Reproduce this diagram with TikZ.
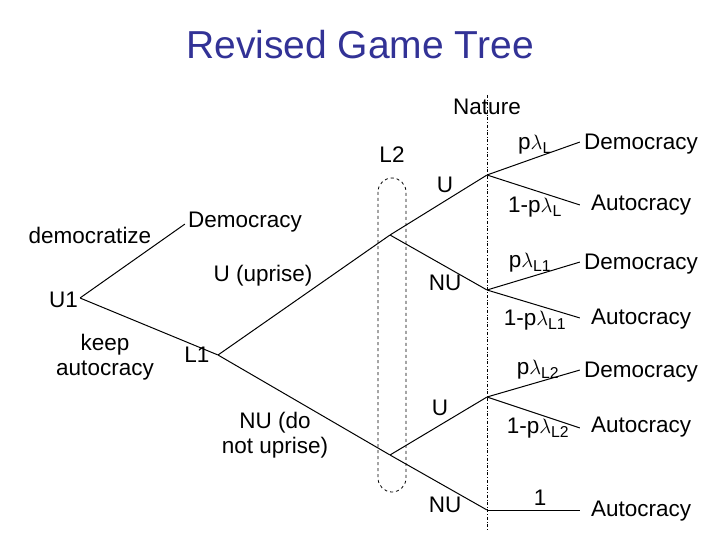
\documentclass[tikz,border=0pt]{standalone}
\usepackage{fontspec}
\setmainfont{Liberation Sans}
\begin{document}
\begin{tikzpicture}[x=1pt,y=-1pt,
  lbl/.style={font=\fontsize{22.5}{25}\selectfont,inner sep=0pt,align=center},
  outc/.style={lbl,anchor=west},
  br/.style={line width=1pt},
  pt/.style={inner sep=0pt,minimum size=0pt}]
\useasboundingbox (0,0) rectangle (720,540);
\node[font=\fontsize{39}{42}\selectfont,text={rgb,255:red,50;green,50;blue,150}] (title) at (360,45) {Revised Game Tree};
% dashed nature line and L2 info set
\draw[dash dot,line width=0.6pt] (487,95) -- (487,530);
\draw[dashed,line width=0.8pt,rounded corners=14pt] (378,178) rectangle (406,492);
\node[lbl] (nat) at (487,107) {Nature};
\node[lbl] (l2lab) at (392,155) {L2};
% nodes
\node[pt] (u1) at (80,298) {};
\node[pt] (d1) at (185,224) {};
\node[pt] (l1) at (218,355) {};
\node[pt] (a) at (390,235) {};
\node[pt] (b) at (390,455) {};
\node[pt] (n1) at (487,175) {};
\node[pt] (n2) at (487,290) {};
\node[pt] (n3) at (487,397) {};
\node[pt] (n4) at (487,510) {};
\node[pt] (e1) at (580,142) {};
\node[pt] (e2) at (580,205) {};
\node[pt] (e3) at (580,262) {};
\node[pt] (e4) at (580,318) {};
\node[pt] (e5) at (580,370) {};
\node[pt] (e6) at (580,428) {};
\node[pt] (e7) at (580,510) {};
\draw[br] (u1) -- (d1);
\draw[br] (u1) -- (l1);
\draw[br] (l1) -- (a);
\draw[br] (l1) -- (b);
\draw[br] (a) -- (n1);
\draw[br] (a) -- (n2);
\draw[br] (b) -- (n3);
\draw[br] (b) -- (n4);
\draw[br] (n1) -- (e1); \draw[br] (n1) -- (e2);
\draw[br] (n2) -- (e3); \draw[br] (n2) -- (e4);
\draw[br] (n3) -- (e5); \draw[br] (n3) -- (e6);
\draw[br] (n4) -- (e7);
% labels
\node[lbl,anchor=east] (u1l) at (78,300) {U1};
\node[lbl] (demz) at (90,235) {democratize};
\node[lbl] (dem1) at (245,222) {Democracy};
\node[lbl] (upr) at (263,276) {U (uprise)};
\node[lbl] (keep) at (105,357) {keep\\autocracy};
\node[lbl] (l1l) at (197,355) {L1};
\node[lbl] (nup) at (275,435) {NU (do\\not uprise)};
\node[lbl] (ua) at (445,185) {U};
\node[lbl] (nua) at (445,283) {NU};
\node[lbl] (ub) at (440,408) {U};
\node[lbl] (nub) at (445,505) {NU};
\node[lbl] (p1) at (535,145) {p$\lambda_{\mathrm{L}}$};
\node[lbl] (q1) at (535,207) {1-p$\lambda_{\mathrm{L}}$};
\node[lbl] (p2) at (530,263) {p$\lambda_{\mathrm{L1}}$};
\node[lbl] (q2) at (535,320) {1-p$\lambda_{\mathrm{L1}}$};
\node[lbl] (p3) at (538,370) {p$\lambda_{\mathrm{L2}}$};
\node[lbl] (q3) at (538,428) {1-p$\lambda_{\mathrm{L2}}$};
\node[lbl] (one) at (540,498) {1};
\node[outc] (o1) at (584,144) {Democracy};
\node[outc] (o2) at (591,205) {Autocracy};
\node[outc] (o3) at (584,264) {Democracy};
\node[outc] (o4) at (591,319) {Autocracy};
\node[outc] (o5) at (584,372) {Democracy};
\node[outc] (o6) at (591,427) {Autocracy};
\node[outc] (o7) at (591,511) {Autocracy};
\end{tikzpicture}
\end{document}
